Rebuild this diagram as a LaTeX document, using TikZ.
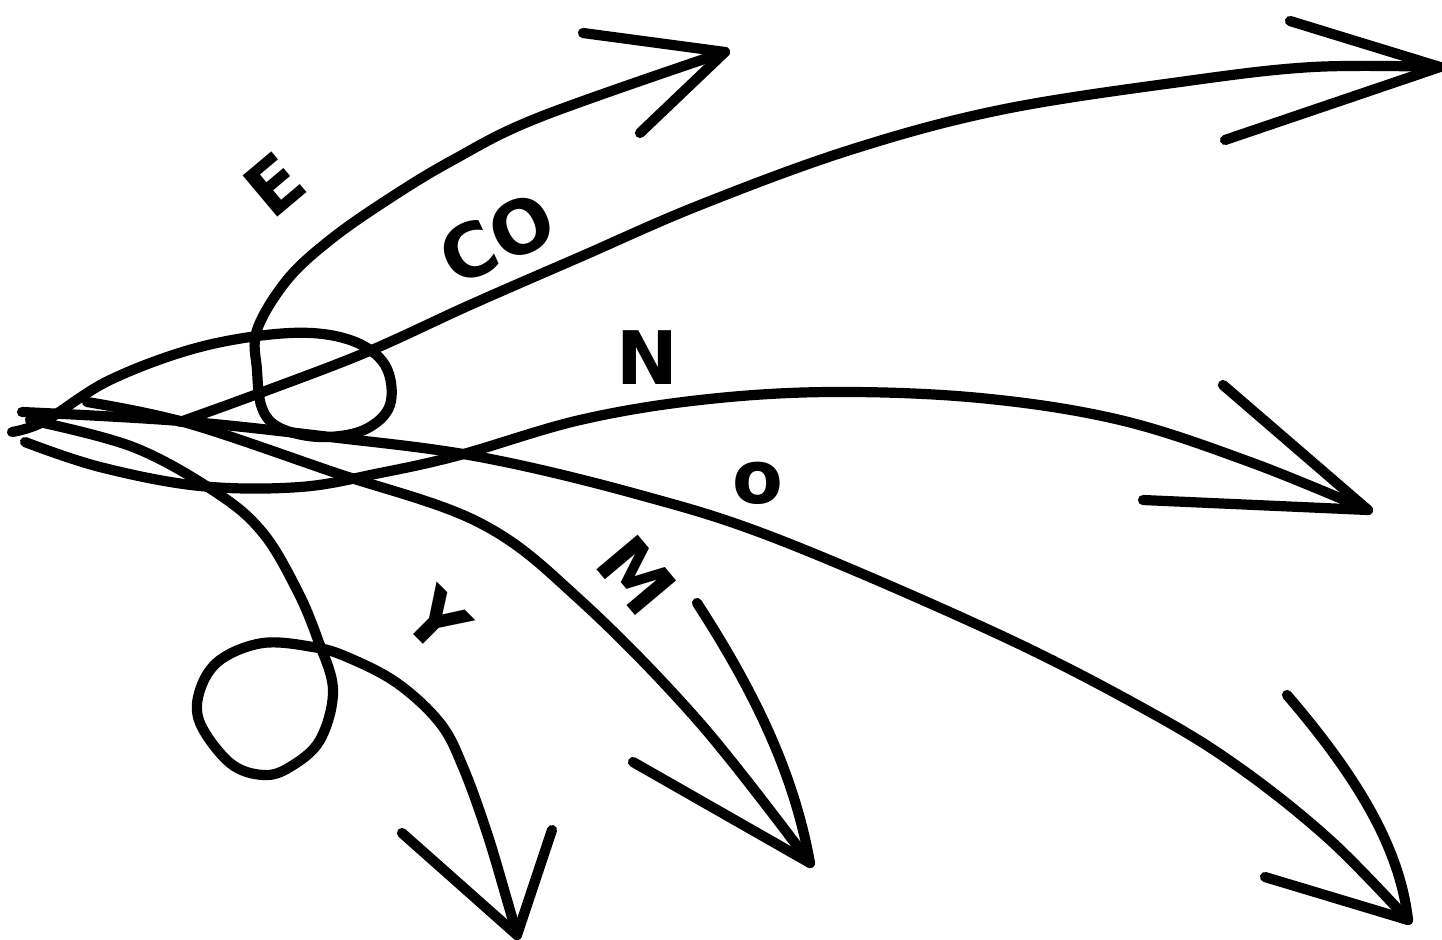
\documentclass[tikz,border=0pt]{standalone}
\usepackage{fontspec}
\setsansfont{DejaVu Sans}
\usetikzlibrary{arrows.meta,calc,positioning}

\begin{document}
\begin{tikzpicture}[x=0.01cm,y=-0.01cm,
  stroke/.style={line width=2.9pt,line cap=round,line join=round},
  lbl/.style={font=\sffamily\bfseries\fontsize{21}{25}\selectfont,inner sep=0pt}]
\useasboundingbox (0,0) rectangle (1442,939);
\coordinate (tipE) at (725,52);
\coordinate (tipCO) at (1440,67);
\coordinate (tipN) at (1368,510);
\coordinate (tipO) at (1408,920);
\coordinate (tipM) at (810,863);
\coordinate (tipY) at (517,935);
\draw[stroke] plot[smooth,tension=0.6] coordinates {(12,432) (45,421) (110,380) (200,347) (290,333) (350,340) (385,365) (390,405) (364,430) (320,437) (280,428) (262,408) (257,370) (257,330) (287,280) (330,240) (387,200) (453,160) (540,117) (725,52)};
\draw[stroke] plot[smooth,tension=0.6] coordinates {(180,422) (260,393) (367,352) (470,305) (580,257) (700,205) (850,150) (1000,110) (1180,82) (1313,67) (1440,67)};
\draw[stroke] plot[smooth,tension=0.6] coordinates {(25,442) (100,467) (200,486) (300,487) (380,473) (460,455) (580,420) (700,400) (830,392) (980,398) (1120,420) (1250,462) (1368,510)};
\draw[stroke] plot[smooth,tension=0.6] coordinates {(22,412) (180,421) (330,437) (480,457) (640,495) (780,540) (1000,635) (1150,712) (1240,768) (1330,840) (1408,920)};
\draw[stroke] plot[smooth,tension=0.6] coordinates {(87,402) (187,423) (333,472) (480,523) (580,600) (700,723) (810,863)};
\draw[stroke] plot[smooth,tension=0.6] coordinates {(30,420) (133,447) (217,493) (263,533) (297,590) (318,640) (333,690) (320,740) (290,767) (263,775) (230,763) (200,723) (200,690) (220,660) (263,643) (313,647) (347,657) (397,683) (440,723) (463,767) (487,833) (507,900) (517,935)};
\draw[stroke] (583,33) -- (tipE) -- (640,133);
\draw[stroke] (1290,21) -- (tipCO) -- (1225,140);
\draw[stroke] (1223,385) -- (tipN) -- (1143,500);
\draw[stroke] (697,603) .. controls (760,700) and (795,780) .. (tipM) -- (633,762);
\draw[stroke] (1287,695) .. controls (1360,780) and (1400,850) .. (tipO) -- (1265,877);
\draw[stroke] (402,833) -- (tipY) -- (552,830);
\node[lbl,rotate=40] (lE) at (275,185) {E};
\node[lbl,rotate=25] (lCO) at (497,238) {CO};
\node[lbl] (lN) at (647,358) {N};
\node[lbl] (lO) at (758,483) {o};
\node[lbl,rotate=-50] (lM) at (637,575) {M};
\node[lbl,rotate=-45] (lY) at (437,620) {Y};
\end{tikzpicture}
\end{document}
